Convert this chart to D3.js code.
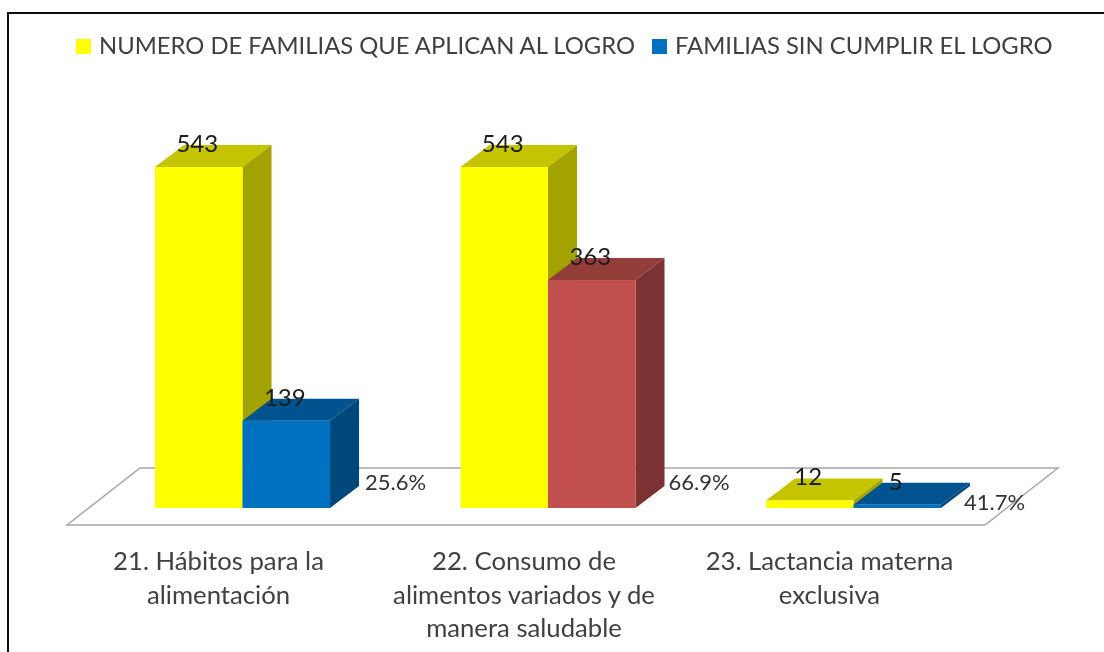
<!DOCTYPE html>
<html>
<head>
<meta charset="utf-8">
<script src="https://cdn.jsdelivr.net/npm/d3@7"></script>
<style>
  html, body { margin: 0; padding: 0; background: #fff; }
  svg { display: block; }
  text { font-family: Lato, "Open Sans", sans-serif; }
</style>
</head>
<body>
<div id="chart"></div>
<script>
const categories = ["21. Hábitos para la\nalimentación", "22. Consumo de\nalimentos variados y de\nmanera saludable", "23. Lactancia materna\nexclusiva"];
const seriesNames = ["NUMERO DE FAMILIAS QUE APLICAN AL LOGRO", "FAMILIAS SIN CUMPLIR EL LOGRO"];
const aplican = [543, 543, 12];
const sinCumplir = [139, 363, 5];
const percents = ["25.6%", "66.9%", "41.7%"];

const WIDTH = 1104, HEIGHT = 652;
const BASE_Y = 508, TOP_Y = 167;
const DEPTH = {x: 29, y: -22};
const LINE_HEIGHT = 33.5;

// front, top, side
const YELLOW = ["#ffff00", "#c4c400", "#a3a300"];
const BLUE = ["#0070c0", "#00538e", "#00477c"];
const RED = ["#c0504d", "#933d3b", "#7c3231"];
const sinCumplirColors = [BLUE, RED, BLUE];
const percentOffsets = [{x: 35, y: 483}, {x: 33, y: 483}, {x: 23, y: 503}];

const svg = d3.select("#chart").append("svg")
    .attr("width", WIDTH)
    .attr("height", HEIGHT);

const defs = svg.append("defs");
defs.append("filter").attr("id", "soft")
    .append("feGaussianBlur").attr("stdDeviation", 0.6);

const root = svg.append("g").attr("filter", "url(#soft)");

// frame runs off the right and bottom edges like the cropped original
root.append("rect")
    .attr("x", 8).attr("y", 13)
    .attr("width", WIDTH).attr("height", HEIGHT)
    .attr("fill", "#fff").attr("stroke", "#111").attr("stroke-width", 2);

const x = d3.scaleBand()
    .domain(categories)
    .range([155, 941])
    .paddingInner(0.427);

const xSeries = d3.scaleBand()
    .domain(d3.range(2))
    .range([0, x.bandwidth()]);

const y = d3.scaleLinear()
    .domain([0, d3.max(aplican)])
    .range([BASE_Y, TOP_Y]);

// floor
const floorLeft = x.range()[0] - 88, floorRight = x.range()[1] + 44;
root.append("path")
    .attr("d", d3.line()([
        [floorLeft, BASE_Y + 17],
        [floorRight, BASE_Y + 17],
        [floorRight + 73, BASE_Y - 40],
        [floorLeft + 73, BASE_Y - 40]
    ]) + "Z")
    .attr("fill", "#fff").attr("stroke", "#a6a6a6").attr("stroke-width", 1.5);

function drawBar(g, x0, value, colors) {
    const w = xSeries.bandwidth();
    const yv = y(value);
    g.append("path")
        .attr("fill", colors[1])
        .attr("d", d3.line()([[x0, yv], [x0 + w, yv], [x0 + w + DEPTH.x, yv + DEPTH.y], [x0 + DEPTH.x, yv + DEPTH.y]]) + "Z");
    g.append("path")
        .attr("fill", colors[2])
        .attr("d", d3.line()([[x0 + w, yv], [x0 + w + DEPTH.x, yv + DEPTH.y], [x0 + w + DEPTH.x, BASE_Y + DEPTH.y], [x0 + w, BASE_Y]]) + "Z");
    g.append("rect")
        .attr("x", x0).attr("y", yv)
        .attr("width", w).attr("height", BASE_Y - yv)
        .attr("fill", colors[0]);
}

const bars = root.append("g");
categories.forEach((c, i) => {
    drawBar(bars, x(c) + xSeries(0), aplican[i], YELLOW);
    drawBar(bars, x(c) + xSeries(1), sinCumplir[i], sinCumplirColors[i]);
});

// value labels
const labels = root.append("g")
    .attr("font-size", 24)
    .attr("fill", "#1a1a1a")
    .attr("text-anchor", "middle");
categories.forEach((c, i) => {
    [aplican[i], sinCumplir[i]].forEach((v, s) => {
        labels.append("text")
            .attr("x", x(c) + xSeries(s) + xSeries.bandwidth() / 2 - 1.5)
            .attr("y", y(v) - 15)
            .text(v);
    });
});

// percent labels
root.append("g").selectAll("text")
    .data(percents)
    .enter().append("text")
    .attr("x", (d, i) => x(categories[i]) + x.bandwidth() + percentOffsets[i].x)
    .attr("y", (d, i) => percentOffsets[i].y + 7)
    .attr("font-size", 22)
    .attr("fill", "#333")
    .text(d => d);

// category axis
const axis = root.append("g")
    .attr("transform", "translate(-24,538)")
    .call(d3.axisBottom(x).tickSize(0));
axis.select(".domain").remove();
axis.attr("font-family", null);
axis.selectAll("text")
    .attr("font-size", 25.7)
    .attr("fill", "#404040")
    .each(function (d) {
        const t = d3.select(this).text("").attr("y", 0).attr("dy", null);
        d.split("\n").forEach((line, i) => {
            t.append("tspan")
                .attr("x", 0)
                .attr("y", 32 + i * LINE_HEIGHT)
                .text(line);
        });
    });

// legend
const legend = root.append("g").attr("font-size", 23.8).attr("fill", "#404040");
const legendX = [76, 652];
const legendColors = [YELLOW[0], BLUE[0]];
seriesNames.forEach((name, i) => {
    legend.append("rect")
        .attr("x", legendX[i]).attr("y", 39)
        .attr("width", 15).attr("height", 15)
        .attr("fill", legendColors[i]);
    legend.append("text")
        .attr("x", legendX[i] + 23).attr("y", 54)
        .text(name);
});
</script>
</body>
</html>
